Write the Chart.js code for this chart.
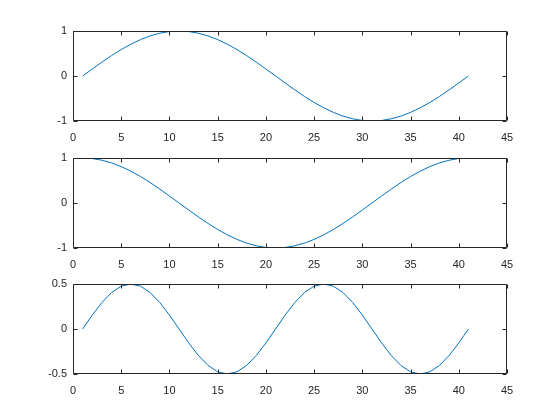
<!DOCTYPE html>
<html><head><meta charset="utf-8">
<script src="https://cdn.jsdelivr.net/npm/chart.js@4/dist/chart.umd.min.js"></script>
<style>
html,body{margin:0;padding:0;background:#fff;}
#fig{position:relative;width:560px;height:420px;background:#fff;overflow:hidden;}
.sp{position:absolute;left:0;width:560px;}
</style></head><body>
<div id="fig">
<div class="sp" id="w1"><canvas id="c1"></canvas></div>
<div class="sp" id="w2"><canvas id="c2"></canvas></div>
<div class="sp" id="w3"><canvas id="c3"></canvas></div>
</div>
<script>
const xValues = [1,2,3,4,5,6,7,8,9,10,11,12,13,14,15,16,17,18,19,20,21,22,23,24,25,26,27,28,29,30,31,32,33,34,35,36,37,38,39,40,41];
const sineValues = [0,0.156,0.309,0.454,0.588,0.707,0.809,0.891,0.951,0.988,1,0.988,0.951,0.891,0.809,0.707,0.588,0.454,0.309,0.156,0,-0.156,-0.309,-0.454,-0.588,-0.707,-0.809,-0.891,-0.951,-0.988,-1,-0.988,-0.951,-0.891,-0.809,-0.707,-0.588,-0.454,-0.309,-0.156,0];
const cosineValues = [1,0.988,0.951,0.891,0.809,0.707,0.588,0.454,0.309,0.156,0,-0.156,-0.309,-0.454,-0.588,-0.707,-0.809,-0.891,-0.951,-0.988,-1,-0.988,-0.951,-0.891,-0.809,-0.707,-0.588,-0.454,-0.309,-0.156,0,0.156,0.309,0.454,0.588,0.707,0.809,0.891,0.951,0.988,1];
const halfSineValues = [0,0.155,0.294,0.405,0.476,0.5,0.476,0.405,0.294,0.155,0,-0.155,-0.294,-0.405,-0.476,-0.5,-0.476,-0.405,-0.294,-0.155,0,0.155,0.294,0.405,0.476,0.5,0.476,0.405,0.294,0.155,0,-0.155,-0.294,-0.405,-0.476,-0.5,-0.476,-0.405,-0.294,-0.155,0];
const xTicks = [0,5,10,15,20,25,30,35,40,45];
const yTicksA = [-1,0,1];
const yTicksB = [-1,0,1];
const yTicksC = [-0.5,0,0.5];

const AX = '#262626';
const FONT = {family:'"Liberation Sans", Arial, Helvetica, sans-serif', size:11};

const boxPlugin = {
  id:'matlabBox',
  afterDraw(chart){
    const ctx = chart.ctx, a = chart.chartArea;
    const L = Math.round(a.left)+0.5, R = Math.round(a.right)-0.5;
    const T = Math.round(a.top)+0.5, B = Math.round(a.bottom)-0.5;
    ctx.save();
    ctx.strokeStyle = AX; ctx.lineWidth = 1;
    ctx.beginPath();
    ctx.rect(L, T, R-L, B-T);
    const tl = 4;
    const xs = chart.scales.x, ys = chart.scales.y;
    xs.ticks.forEach(t=>{
      const p = Math.round(xs.getPixelForValue(t.value))+0.5;
      ctx.moveTo(p,B); ctx.lineTo(p,B-tl);
      ctx.moveTo(p,T); ctx.lineTo(p,T+tl);
    });
    ys.ticks.forEach(t=>{
      const p = Math.round(ys.getPixelForValue(t.value))+0.5;
      ctx.moveTo(L,p); ctx.lineTo(L+tl,p);
      ctx.moveTo(R,p); ctx.lineTo(R-tl,p);
    });
    ctx.stroke();
    ctx.restore();
  }
};

function zeroPad(s){ s.paddingTop = 0; s.paddingBottom = 0; s.paddingLeft = 0; s.paddingRight = 0; }

function makeSubplot(id, wrapId, plotTop, plotBottom, values, yTicks){
  const padTop = 10, xAxisH = 40;
  const h = (plotBottom - plotTop) + padTop + xAxisH;
  const w = document.getElementById(wrapId);
  w.style.top = (plotTop - padTop) + 'px';
  w.style.height = h + 'px';
  const cv = document.getElementById(id);
  cv.width = 560; cv.height = h;
  cv.style.width = '560px'; cv.style.height = h + 'px';
  const step = yTicks[1]-yTicks[0];
  new Chart(cv, {
    type:'line',
    data:{ datasets:[{ data: xValues.map((x,i)=>({x:x, y:values[i]})), borderColor:'#0072BD', borderWidth:1, pointRadius:0, tension:0, fill:false }] },
    options:{
      responsive:false, animation:false, devicePixelRatio:1,
      layout:{ padding:{ top:padTop, left:0, right:53, bottom:0 } },
      plugins:{ legend:{display:false}, tooltip:{enabled:false} },
      scales:{
        x:{ type:'linear', min:xTicks[0], max:xTicks[xTicks.length-1],
            afterFit(s){ s.height = xAxisH; zeroPad(s); },
            afterBuildTicks(s){ s.ticks = xTicks.map(v=>({value:v})); },
            grid:{display:false, drawTicks:false}, border:{display:false},
            ticks:{ color:AX, font:FONT, padding:10, autoSkip:false, maxRotation:0, stepSize:5 } },
        y:{ type:'linear', min:yTicks[0], max:yTicks[yTicks.length-1],
            afterFit(s){ s.width = 73; zeroPad(s); },
            afterBuildTicks(s){ s.ticks = yTicks.map(v=>({value:v})); },
            grid:{display:false, drawTicks:false}, border:{display:false},
            ticks:{ color:AX, font:FONT, padding:6, autoSkip:false, stepSize:step } }
      }
    },
    plugins:[boxPlugin]
  });
}

makeSubplot('c1','w1',31,121,sineValues,yTicksA);
makeSubplot('c2','w2',158,248,cosineValues,yTicksB);
makeSubplot('c3','w3',284,374,halfSineValues,yTicksC);
</script>
</body></html>
